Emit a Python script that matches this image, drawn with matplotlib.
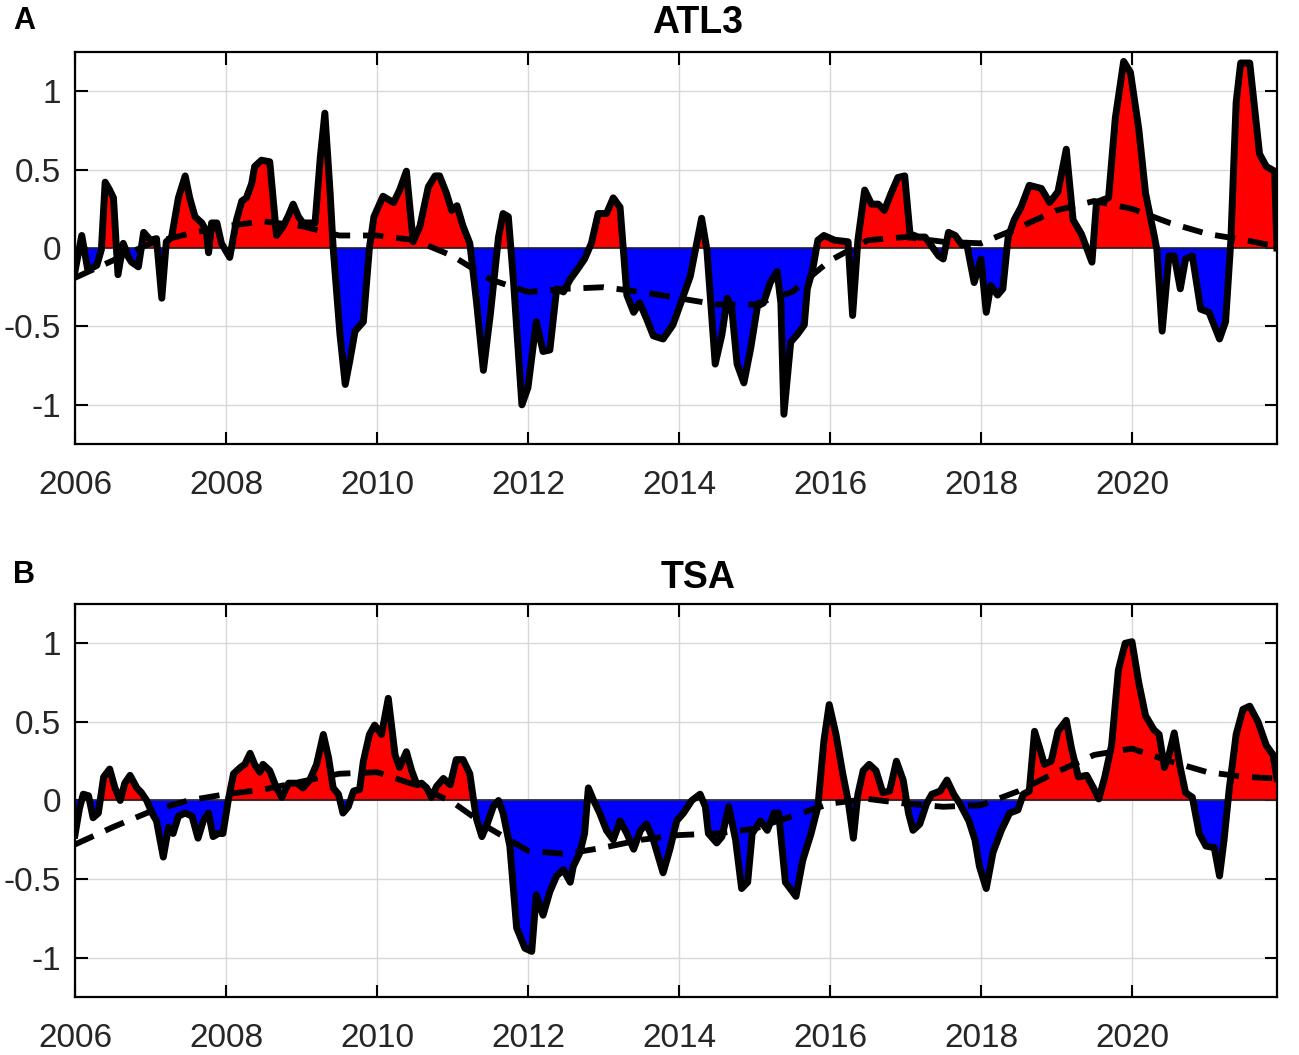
import numpy as np
import matplotlib.pyplot as plt

plt.rcParams['font.family'] = ['Liberation Sans', 'DejaVu Sans']
plt.rcParams['axes.unicode_minus'] = False

# ATL3 index (vertices, decimal years)
atl3_t = [2006.00, 2006.09, 2006.17, 2006.29, 2006.35, 2006.40, 2006.46, 2006.51, 2006.57, 2006.64,
          2006.71, 2006.75, 2006.84, 2006.91, 2007.00, 2007.08, 2007.15, 2007.21, 2007.28, 2007.37,
          2007.46, 2007.52, 2007.59, 2007.68, 2007.74, 2007.77, 2007.81, 2007.88, 2007.94, 2008.05,
          2008.14, 2008.21, 2008.27, 2008.34, 2008.38, 2008.47, 2008.58, 2008.67, 2008.76, 2008.83,
          2008.89, 2008.96, 2009.02, 2009.18, 2009.25, 2009.31, 2009.38, 2009.42, 2009.51, 2009.58,
          2009.64, 2009.71, 2009.82, 2009.90, 2009.96, 2010.08, 2010.22, 2010.30, 2010.39, 2010.48,
          2010.57, 2010.68, 2010.77, 2010.83, 2010.92, 2010.99, 2011.06, 2011.14, 2011.23, 2011.32,
          2011.41, 2011.50, 2011.61, 2011.67, 2011.74, 2011.81, 2011.92, 2012.00, 2012.11, 2012.20,
          2012.29, 2012.38, 2012.47, 2012.56, 2012.65, 2012.75, 2012.84, 2012.93, 2013.04, 2013.13,
          2013.22, 2013.31, 2013.40, 2013.48, 2013.57, 2013.66, 2013.79, 2013.92, 2014.01, 2014.15,
          2014.30, 2014.37, 2014.48, 2014.57, 2014.64, 2014.70, 2014.77, 2014.86, 2014.95, 2015.04,
          2015.12, 2015.21, 2015.30, 2015.35, 2015.39, 2015.48, 2015.57, 2015.66, 2015.70, 2015.77,
          2015.84, 2015.92, 2016.06, 2016.24, 2016.30, 2016.37, 2016.46, 2016.55, 2016.64, 2016.72,
          2016.81, 2016.90, 2016.99, 2017.06, 2017.17, 2017.26, 2017.35, 2017.44, 2017.50, 2017.57,
          2017.66, 2017.75, 2017.81, 2017.91, 2018.00, 2018.07, 2018.13, 2018.22, 2018.29, 2018.36,
          2018.44, 2018.53, 2018.64, 2018.80, 2018.91, 2019.02, 2019.13, 2019.22, 2019.33, 2019.47,
          2019.53, 2019.69, 2019.78, 2019.89, 2019.98, 2020.09, 2020.18, 2020.29, 2020.33, 2020.40,
          2020.49, 2020.56, 2020.64, 2020.71, 2020.80, 2020.91, 2021.02, 2021.16, 2021.24, 2021.31,
          2021.38, 2021.44, 2021.56, 2021.69, 2021.78, 2021.89, 2021.92]
atl3_v = [-0.15, 0.08, -0.14, -0.11, -0.01, 0.42, 0.37, 0.32, -0.17, 0.03,
          -0.06, -0.09, -0.12, 0.10, 0.05, 0.06, -0.32, 0.04, 0.07, 0.32,
          0.46, 0.32, 0.20, 0.16, 0.11, -0.03, 0.16, 0.16, 0.03, -0.06,
          0.18, 0.30, 0.32, 0.41, 0.52, 0.56, 0.55, 0.08, 0.14, 0.21,
          0.28, 0.20, 0.16, 0.16, 0.58, 0.86, 0.35, 0.00, -0.55, -0.87,
          -0.72, -0.53, -0.47, 0.00, 0.20, 0.33, 0.29, 0.37, 0.49, 0.04,
          0.14, 0.39, 0.46, 0.46, 0.35, 0.24, 0.27, 0.14, 0.03, -0.35,
          -0.78, -0.43, 0.07, 0.22, 0.20, -0.22, -1.00, -0.89, -0.47, -0.66,
          -0.65, -0.26, -0.28, -0.20, -0.14, -0.07, 0.03, 0.22, 0.22, 0.32,
          0.26, -0.30, -0.41, -0.35, -0.45, -0.56, -0.58, -0.49, -0.37, -0.18,
          0.19, -0.01, -0.74, -0.55, -0.32, -0.39, -0.74, -0.86, -0.64, -0.37,
          -0.35, -0.22, -0.15, -0.35, -1.06, -0.60, -0.55, -0.49, -0.26, -0.14,
          0.05, 0.08, 0.05, 0.04, -0.43, 0.05, 0.37, 0.28, 0.28, 0.24,
          0.35, 0.45, 0.46, 0.09, 0.07, 0.07, 0.01, -0.05, -0.07, 0.10,
          0.08, 0.02, 0.03, -0.22, -0.07, -0.41, -0.24, -0.30, -0.26, 0.07,
          0.18, 0.26, 0.40, 0.38, 0.29, 0.36, 0.63, 0.18, 0.09, -0.09,
          0.29, 0.32, 0.83, 1.19, 1.12, 0.76, 0.35, 0.09, -0.01, -0.53,
          -0.05, -0.05, -0.26, -0.07, -0.05, -0.39, -0.41, -0.58, -0.47, 0.05,
          0.93, 1.18, 1.18, 0.60, 0.52, 0.49, 0.00]

# ATL3 low-frequency component (dashed)
atl3_trend_t = [2006.0, 2006.5, 2007.0, 2007.5, 2008.0, 2008.5, 2009.0, 2009.5, 2010.0, 2010.5,
                2011.0, 2011.5, 2012.0, 2012.5, 2013.0, 2013.5, 2014.0, 2014.5, 2015.0, 2015.5,
                2016.0, 2016.5, 2017.0, 2017.5, 2018.0, 2018.5, 2019.0, 2019.5, 2020.0, 2020.5,
                2021.0, 2021.5, 2021.92]
atl3_trend_v = [-0.19, -0.08, 0.03, 0.09, 0.14, 0.17, 0.14, 0.08, 0.08, 0.05,
                -0.05, -0.20, -0.28, -0.26, -0.25, -0.28, -0.32, -0.36, -0.36, -0.28,
                -0.08, 0.05, 0.07, 0.04, 0.03, 0.13, 0.24, 0.30, 0.25, 0.16,
                0.09, 0.05, 0.01]

# TSA index
tsa_t = [2006.00, 2006.06, 2006.11, 2006.18, 2006.24, 2006.31, 2006.38, 2006.46, 2006.53, 2006.60,
         2006.66, 2006.73, 2006.82, 2006.88, 2006.95, 2007.02, 2007.08, 2007.17, 2007.24, 2007.30,
         2007.37, 2007.46, 2007.55, 2007.63, 2007.70, 2007.77, 2007.83, 2007.90, 2007.96, 2008.03,
         2008.10, 2008.19, 2008.25, 2008.32, 2008.38, 2008.45, 2008.49, 2008.58, 2008.67, 2008.74,
         2008.83, 2008.94, 2009.02, 2009.11, 2009.20, 2009.29, 2009.36, 2009.42, 2009.49, 2009.55,
         2009.62, 2009.69, 2009.77, 2009.82, 2009.90, 2009.97, 2010.06, 2010.15, 2010.24, 2010.30,
         2010.39, 2010.46, 2010.53, 2010.59, 2010.66, 2010.72, 2010.79, 2010.88, 2010.97, 2011.05,
         2011.14, 2011.23, 2011.28, 2011.32, 2011.39, 2011.46, 2011.54, 2011.61, 2011.67, 2011.76,
         2011.85, 2011.96, 2012.05, 2012.11, 2012.20, 2012.29, 2012.38, 2012.47, 2012.56, 2012.60,
         2012.69, 2012.75, 2012.80, 2012.87, 2012.95, 2013.04, 2013.13, 2013.22, 2013.31, 2013.40,
         2013.49, 2013.57, 2013.66, 2013.79, 2013.88, 2013.97, 2014.06, 2014.17, 2014.28, 2014.35,
         2014.39, 2014.50, 2014.57, 2014.66, 2014.75, 2014.83, 2014.91, 2014.97, 2015.08, 2015.17,
         2015.26, 2015.32, 2015.41, 2015.55, 2015.64, 2015.75, 2015.84, 2015.92, 2015.99, 2016.08,
         2016.17, 2016.24, 2016.31, 2016.37, 2016.44, 2016.52, 2016.61, 2016.70, 2016.79, 2016.88,
         2016.97, 2017.04, 2017.10, 2017.19, 2017.28, 2017.35, 2017.46, 2017.55, 2017.64, 2017.72,
         2017.84, 2017.92, 2017.98, 2018.07, 2018.16, 2018.27, 2018.38, 2018.49, 2018.56, 2018.64,
         2018.71, 2018.78, 2018.84, 2018.93, 2019.02, 2019.13, 2019.20, 2019.29, 2019.40, 2019.49,
         2019.56, 2019.64, 2019.73, 2019.82, 2019.91, 2020.00, 2020.09, 2020.18, 2020.29, 2020.36,
         2020.43, 2020.49, 2020.56, 2020.64, 2020.71, 2020.80, 2020.89, 2020.98, 2021.09, 2021.16,
         2021.22, 2021.29, 2021.38, 2021.47, 2021.56, 2021.67, 2021.78, 2021.87, 2021.92]
tsa_v = [-0.22, -0.05, 0.04, 0.03, -0.11, -0.08, 0.15, 0.20, 0.08, 0.00,
         0.11, 0.16, 0.08, 0.05, 0.00, -0.08, -0.13, -0.36, -0.17, -0.21,
         -0.10, -0.08, -0.10, -0.24, -0.13, -0.08, -0.23, -0.21, -0.21, 0.00,
         0.17, 0.21, 0.23, 0.30, 0.23, 0.18, 0.23, 0.19, 0.08, 0.02,
         0.11, 0.11, 0.08, 0.13, 0.23, 0.42, 0.27, 0.08, 0.04, -0.08,
         -0.04, 0.06, 0.07, 0.25, 0.42, 0.48, 0.42, 0.65, 0.29, 0.21,
         0.31, 0.19, 0.10, 0.11, 0.08, 0.02, 0.09, 0.14, 0.10, 0.26,
         0.26, 0.17, 0.00, -0.12, -0.23, -0.15, -0.04, 0.00, -0.08, -0.29,
         -0.81, -0.94, -0.96, -0.60, -0.73, -0.58, -0.48, -0.44, -0.52, -0.42,
         -0.33, -0.21, 0.08, 0.00, -0.08, -0.19, -0.25, -0.13, -0.21, -0.31,
         -0.19, -0.15, -0.25, -0.46, -0.31, -0.13, -0.08, 0.00, 0.04, -0.04,
         -0.21, -0.27, -0.23, -0.04, -0.25, -0.56, -0.52, -0.21, -0.13, -0.19,
         -0.08, -0.08, -0.52, -0.61, -0.38, -0.21, -0.04, 0.38, 0.61, 0.42,
         0.17, 0.00, -0.24, 0.04, 0.19, 0.23, 0.19, 0.05, 0.06, 0.25,
         0.13, -0.08, -0.19, -0.15, -0.02, 0.04, 0.06, 0.13, 0.04, -0.02,
         -0.13, -0.25, -0.42, -0.56, -0.33, -0.19, -0.08, -0.06, 0.04, 0.06,
         0.44, 0.33, 0.23, 0.25, 0.44, 0.51, 0.33, 0.15, 0.16, 0.08,
         0.01, 0.15, 0.35, 0.83, 1.00, 1.01, 0.75, 0.54, 0.45, 0.42,
         0.21, 0.29, 0.43, 0.21, 0.05, 0.02, -0.21, -0.29, -0.30, -0.48,
         -0.25, 0.08, 0.42, 0.58, 0.60, 0.50, 0.35, 0.29, 0.14]

tsa_trend_t = atl3_trend_t
tsa_trend_v = [-0.28, -0.17, -0.07, 0.00, 0.04, 0.07, 0.12, 0.17, 0.18, 0.10,
               -0.01, -0.18, -0.32, -0.34, -0.30, -0.25, -0.22, -0.21, -0.18, -0.10,
               -0.02, 0.01, -0.02, -0.04, -0.03, 0.06, 0.18, 0.29, 0.33, 0.25,
               0.18, 0.15, 0.14]

year_ticks = [2006, 2008, 2010, 2012, 2014, 2016, 2018, 2020]
y_ticks = [-1, -0.5, 0, 0.5, 1]
y_labels = ['-1', '-0.5', '0', '0.5', '1']


def draw_panel(ax, t, v, tt, tv):
    t = np.array(t)
    v = np.array(v)
    ax.fill_between(t, v, 0, where=v >= 0, interpolate=True, color='#ff0000', lw=0, zorder=2)
    ax.fill_between(t, v, 0, where=v <= 0, interpolate=True, color='#0000ff', lw=0, zorder=2)
    ax.axhline(0, color='#202020', lw=1.2, zorder=2.5)
    ax.plot(tt, tv, color='black', lw=4.2, ls=(0, (3.5, 2.2)), zorder=3)
    ax.plot(t, v, color='black', lw=5, solid_joinstyle='round', zorder=4)

    ax.set_xlim(2006, 2021.92)
    ax.set_ylim(-1.25, 1.25)
    ax.set_xticks(year_ticks)
    ax.set_xticklabels([str(y) for y in year_ticks])
    ax.set_yticks(y_ticks)
    ax.set_yticklabels(y_labels)
    ax.grid(True, color='#d8d8d8', lw=1.0, zorder=0)
    ax.set_axisbelow(True)
    ax.tick_params(direction='in', top=True, right=True, length=9, width=1.5,
                   labelsize=24, labelcolor='#262626')
    ax.tick_params(axis='x', pad=19)
    ax.tick_params(axis='y', pad=10)
    for s in ax.spines.values():
        s.set_linewidth(1.6)
        s.set_color('black')


fig = plt.figure(figsize=(12.99, 10.55), dpi=100)
ax1 = fig.add_axes([0.0577, 0.5791, 0.9253, 0.3716])
ax2 = fig.add_axes([0.0577, 0.0550, 0.9253, 0.3725])

draw_panel(ax1, atl3_t, atl3_v, atl3_trend_t, atl3_trend_v)
draw_panel(ax2, tsa_t, tsa_v, tsa_trend_t, tsa_trend_v)

fig.text(698 / 1299, 1 - 23 / 1055, 'ATL3', ha='center', va='center', fontsize=27, fontweight='bold')
fig.text(698 / 1299, 1 - 578 / 1055, 'TSA', ha='center', va='center', fontsize=27, fontweight='bold')
fig.text(13 / 1299, 1 - 21 / 1055, 'A', ha='left', va='center', fontsize=22, fontweight='bold')
fig.text(13 / 1299, 1 - 575 / 1055, 'B', ha='left', va='center', fontsize=22, fontweight='bold')

fig.savefig('out.png', dpi=100)
